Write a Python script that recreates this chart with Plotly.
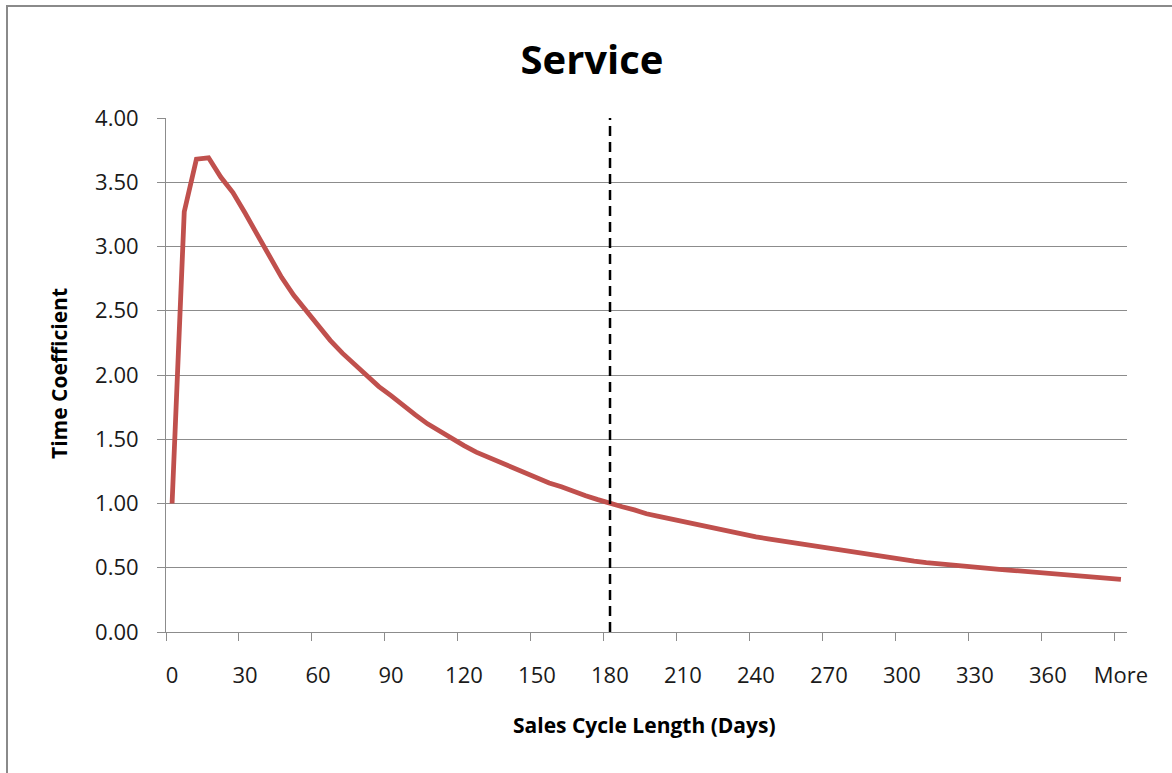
import plotly.graph_objects as go

# ---- data ----
categories = [str(d) for d in range(0, 390, 5)] + ["More"]   # 5-day bins, last bin "More"
time_coefficient = [
    1.00, 3.27, 3.68, 3.69, 3.54, 3.42, 3.26, 3.09, 2.92, 2.76,
    2.62, 2.50, 2.38, 2.27, 2.17, 2.08, 1.99, 1.91, 1.84, 1.76,
    1.69, 1.62, 1.56, 1.50, 1.45, 1.40, 1.36, 1.31, 1.27, 1.23,
    1.19, 1.16, 1.13, 1.09, 1.06, 1.03, 1.00, 0.975, 0.95, 0.92,
    0.90, 0.88, 0.855, 0.835, 0.815, 0.795, 0.775, 0.76, 0.74, 0.725,
    0.71, 0.695, 0.68, 0.665, 0.65, 0.635, 0.62, 0.605, 0.59, 0.575,
    0.563, 0.552, 0.54, 0.53, 0.52, 0.512, 0.503, 0.495, 0.487, 0.48,
    0.472, 0.465, 0.46, 0.452, 0.44, 0.43, 0.42, 0.418, 0.41,
]
tick_labels = ["0", "30", "60", "90", "120", "150", "180", "210", "240",
               "270", "300", "330", "360", "More"]
marker_day = "180"
marker_values = [0, 4]
y_ticks = [0, 0.5, 1.0, 1.5, 2.0, 2.5, 3.0, 3.5, 4.0]

# ---- positions on the category axis ----
xpos = list(range(len(categories)))
tick_idx = [categories.index(t) for t in tick_labels]
marker_idx = categories.index(marker_day)

FONT = "Open Sans"
GRID = "#8c8c8c"

fig = go.Figure()
fig.add_trace(go.Scatter(
    x=xpos, y=time_coefficient, mode="lines",
    line=dict(color="#C0504D", width=4.8),
    hoverinfo="skip", showlegend=False))
fig.add_trace(go.Scatter(
    x=[marker_idx, marker_idx], y=marker_values, mode="lines",
    line=dict(color="black", width=2.5, dash="10px,6px"),
    hoverinfo="skip", showlegend=False))

L, R, T, B = 166, 45, 118, 141
W, H = 1172, 773
pw, ph = W - L - R, H - T - B

def px_x(p):
    return (p - L) / pw

def px_y(p):
    return (H - B - p) / ph

fig.update_layout(
    width=W, height=H, autosize=False,
    margin=dict(l=L, r=R, t=T, b=B, pad=0),
    paper_bgcolor="white", plot_bgcolor="white",
    font=dict(family=FONT, color="#1a1a1a"),
    title=dict(text="<b>Service</b>", x=592 / W, xref="container", xanchor="center",
               y=1 - 60 / H, yref="container", yanchor="middle",
               font=dict(family=FONT, size=40, color="black")),
    xaxis=dict(
        range=[-0.5, len(categories) - 0.5],
        tickmode="array",
        tickvals=[i - 0.5 for i in tick_idx],
        ticktext=tick_labels,
        ticklabelshift=6,
        ticks="outside", ticklen=8, tickcolor=GRID, tickwidth=1,
        ticklabelstandoff=16,
        tickfont=dict(family=FONT, size=22, color="#1a1a1a"),
        showgrid=False, zeroline=False,
        showline=True, linecolor=GRID, linewidth=1,
        fixedrange=True,
    ),
    yaxis=dict(
        range=[0, 4],
        tickmode="array", tickvals=y_ticks,
        tickformat=".2f",
        ticks="outside", ticklen=8, tickcolor=GRID, tickwidth=1,
        ticklabelstandoff=14,
        tickfont=dict(family=FONT, size=22, color="#1a1a1a"),
        showgrid=True, gridcolor=GRID, gridwidth=1,
        zeroline=False,
        showline=True, linecolor=GRID, linewidth=1,
        fixedrange=True,
    ),
    annotations=[
        dict(text="<b>Time Coefficient</b>", xref="paper", yref="paper",
             x=px_x(59), y=px_y(374), xanchor="center", yanchor="middle",
             textangle=-90, showarrow=False,
             font=dict(family=FONT, size=21, color="black")),
        dict(text="<b>Sales Cycle Length (Days)</b>", xref="paper", yref="paper",
             x=px_x(644), y=px_y(725), xanchor="center", yanchor="middle",
             showarrow=False,
             font=dict(family=FONT, size=21, color="black")),
    ],
    shapes=[
        dict(type="rect", xref="paper", yref="paper",
             x0=px_x(7), x1=px_x(1180), y0=px_y(780), y1=px_y(6),
             line=dict(color="#8a8a8a", width=2), fillcolor="rgba(0,0,0,0)",
             layer="below"),
    ],
)

fig.write_html(
    "out.html",
    config={"displayModeBar": False, "staticPlot": True},
    post_script="document.body.style.margin='0';document.body.style.overflow='hidden';",
)
